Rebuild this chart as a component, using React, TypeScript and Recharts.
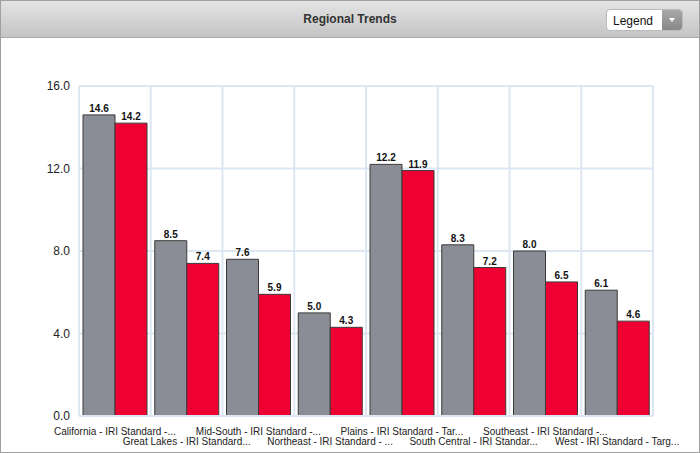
import { BarChart, Bar, XAxis, YAxis, CartesianGrid, LabelList } from "recharts";

const regions = [
  "California - IRI Standard -...",
  "Great Lakes - IRI Standard...",
  "Mid-South - IRI Standard -...",
  "Northeast - IRI Standard - ...",
  "Plains - IRI Standard - Tar...",
  "South Central - IRI Standar...",
  "Southeast - IRI Standard -...",
  "West - IRI Standard - Targ...",
];
const currentValues = [14.6, 8.5, 7.6, 5.0, 12.2, 8.3, 8.0, 6.1];
const targetValues = [14.2, 7.4, 5.9, 4.3, 11.9, 7.2, 6.5, 4.6];
const yTicks = [0, 4, 8, 12, 16];

const chartData = regions.map((region, i) => ({
  region,
  current: currentValues[i],
  target: targetValues[i],
}));

const FONT = "Arial, 'Liberation Sans', sans-serif";

function StaggeredTick(props: any) {
  const { x, y, payload, index } = props;
  const dy = index % 2 === 0 ? 11 : 21;
  return (
    <text
      x={x}
      y={y + dy}
      textAnchor="middle"
      fontSize={10}
      fontFamily={FONT}
      fill="#222"
    >
      {payload.value}
    </text>
  );
}

export default function App() {
  return (
    <div
      style={{
        position: "absolute",
        top: 0,
        left: 0,
        width: 700,
        height: 453,
        boxSizing: "border-box",
        border: "1px solid #a0a0a0",
        background: "#fff",
        fontFamily: FONT,
      }}
    >
      <div
        style={{
          height: 36,
          borderBottom: "1px solid #a8a8a8",
          background: "linear-gradient(#e4e4e4, #c4c4c4)",
          position: "relative",
        }}
      >
        <div
          style={{
            position: "absolute",
            left: 0,
            right: 0,
            top: 11,
            textAlign: "center",
            fontSize: 12,
            fontWeight: "bold",
            color: "#333",
          }}
        >
          Regional Trends
        </div>
        <div
          style={{
            position: "absolute",
            left: 605,
            top: 8,
            width: 77,
            height: 22,
            borderRadius: 4,
            background: "#fff",
            border: "1px solid #bbb",
            boxSizing: "border-box",
            overflow: "hidden",
          }}
        >
          <span
            style={{
              position: "absolute",
              left: 6,
              top: 4,
              fontSize: 12,
              color: "#111",
            }}
          >
            Legend
          </span>
          <div
            style={{
              position: "absolute",
              right: 0,
              top: 0,
              width: 20,
              height: 20,
              background: "linear-gradient(#a8a8a8, #888)",
            }}
          >
            <div
              style={{
                position: "absolute",
                left: 7,
                top: 8,
                width: 0,
                height: 0,
                borderLeft: "3px solid transparent",
                borderRight: "3px solid transparent",
                borderTop: "4px solid #fff",
              }}
            />
          </div>
        </div>
      </div>
      <BarChart
        width={698}
        height={414}
        data={chartData}
        margin={{ top: 48, right: 46, bottom: 0, left: 0 }}
        barCategoryGap={4}
        barGap={0}
      >
        <CartesianGrid
          stroke="#dde7f3"
          strokeWidth={2}
          verticalCoordinatesGenerator={({ offset }: any) =>
            regions.map((_, i) => offset.left + (i * offset.width) / regions.length).concat(offset.left + offset.width)
          }
        />
        <XAxis
          dataKey="region"
          interval={0}
          axisLine={{ stroke: "#dde7f3", strokeWidth: 2 }}
          tickLine={false}
          height={36}
          tick={<StaggeredTick />}
        />
        <YAxis
          width={78}
          domain={[0, 16]}
          ticks={yTicks}
          axisLine={false}
          tickLine={false}
          tickSize={0}
          tickMargin={9}
          tickFormatter={(v: number) => v.toFixed(1)}
          tick={{ fontSize: 12, fill: "#222", fontFamily: FONT }}
        />
        <Bar
          dataKey="current"
          fill="#8a8d95"
          stroke="#3a3a3a"
          strokeWidth={1}
          isAnimationActive={false}
        >
          <LabelList
            dataKey="current"
            position="top"
            offset={3}
            formatter={(v: number) => v.toFixed(1)}
            style={{ fontSize: 10, fontWeight: "bold", fill: "#111", fontFamily: FONT }}
          />
        </Bar>
        <Bar
          dataKey="target"
          fill="#ee0033"
          stroke="#3a3a3a"
          strokeWidth={1}
          isAnimationActive={false}
        >
          <LabelList
            dataKey="target"
            position="top"
            offset={3}
            formatter={(v: number) => v.toFixed(1)}
            style={{ fontSize: 10, fontWeight: "bold", fill: "#111", fontFamily: FONT }}
          />
        </Bar>
      </BarChart>
    </div>
  );
}
